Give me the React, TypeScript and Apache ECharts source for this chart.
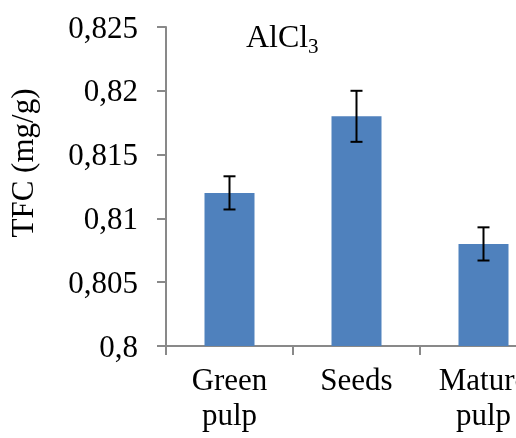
import React, { useEffect, useRef } from "react";
import * as echarts from "echarts";

const categories = ["Green\npulp", "Seeds", "Mature\npulp"];
const values = [0.812, 0.818, 0.808];
const errors = [0.0013, 0.002, 0.0013];
const yTicks = { min: 0.8, max: 0.825, interval: 0.005 };
const yAxisTitle = "TFC (mg/g)";
const chartTitle = "AlCl";
const chartTitleSub = "3";

const FONT = "'Liberation Serif', 'Times New Roman', serif";

export default function App() {
  const ref = useRef<HTMLDivElement>(null);
  useEffect(() => {
    if (!ref.current) return;
    const chart = echarts.init(ref.current, undefined, { renderer: "svg" });
    const errData = values.map((v, i) => [i, v - errors[i], v + errors[i]]);
    chart.setOption({
      animation: false,
      grid: { left: 166, width: 381, top: 27, bottom: 92, containLabel: false, outerBoundsMode: "none" },
      xAxis: {
        type: "category",
        data: categories,
        axisLine: { show: true, lineStyle: { color: "#898989", width: 2 } },
        axisTick: { show: true, length: 9, alignWithLabel: false, lineStyle: { color: "#898989", width: 2 } },
        axisLabel: {
          color: "#000",
          fontFamily: FONT,
          fontSize: 31,
          lineHeight: 35,
          margin: 16,
          interval: 0,
          hideOverlap: false,
        },
      },
      yAxis: {
        type: "value",
        min: yTicks.min,
        max: yTicks.max,
        interval: yTicks.interval,
        axisLine: { show: true, lineStyle: { color: "#898989", width: 2 } },
        axisTick: { show: true, length: 9, lineStyle: { color: "#898989", width: 2 } },
        splitLine: { show: false },
        axisLabel: {
          color: "#000",
          fontFamily: FONT,
          fontSize: 31,
          margin: 28,
          formatter: (v: number) => String(parseFloat(v.toFixed(4))).replace(".", ","),
        },
      },
      series: [
        {
          type: "bar",
          data: values,
          barWidth: 50,
          itemStyle: { color: "#4F81BD" },
        },
        {
          type: "custom",
          data: errData,
          z: 10,
          clip: false,
          renderItem: (params: any, api: any) => {
            const x = api.value(0);
            const lo = api.coord([x, api.value(1)]);
            const hi = api.coord([x, api.value(2)]);
            const half = 6;
            const style = { stroke: "#000", lineWidth: 2 };
            return {
              type: "group",
              children: [
                { type: "line", shape: { x1: hi[0], y1: hi[1], x2: lo[0], y2: lo[1] }, style },
                { type: "line", shape: { x1: hi[0] - half, y1: hi[1], x2: hi[0] + half, y2: hi[1] }, style },
                { type: "line", shape: { x1: lo[0] - half, y1: lo[1], x2: lo[0] + half, y2: lo[1] }, style },
              ],
            };
          },
        },
      ],
      graphic: [
        {
          type: "text",
          x: 246,
          y: 36,
          style: { text: chartTitle, fontFamily: FONT, fontSize: 32, fill: "#000", verticalAlign: "middle", align: "left" },
        },
        {
          type: "text",
          x: 308,
          y: 46,
          style: { text: chartTitleSub, fontFamily: FONT, fontSize: 21, fill: "#000", verticalAlign: "middle", align: "left" },
        },
        {
          type: "text",
          x: 22,
          y: 163,
          rotation: Math.PI / 2,
          style: { text: yAxisTitle, fontFamily: FONT, fontSize: 31, fill: "#000", verticalAlign: "middle", align: "center" },
        },
      ],
    });
    return () => chart.dispose();
  }, []);
  return <div ref={ref} style={{ position: "fixed", left: 0, top: 0, width: 516, height: 438 }} />;
}
